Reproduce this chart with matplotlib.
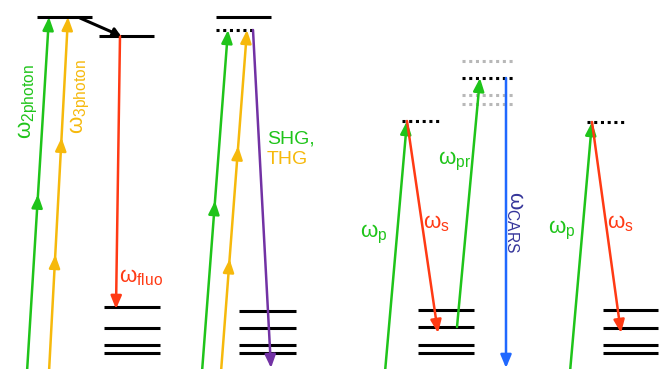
import matplotlib
matplotlib.use("Agg")
import matplotlib.pyplot as plt

plt.rcParams["font.family"] = ["Liberation Sans", "DejaVu Sans"]
plt.rcParams["mathtext.fontset"] = "custom"
plt.rcParams["mathtext.rm"] = "Liberation Sans"
plt.rcParams["mathtext.it"] = "Liberation Sans"

GREEN = "#1fc41a"
YELLOW = "#f6b90c"
RED = "#ff3a14"
PURPLE = "#7232a4"
BLUE = "#2068ff"
NAVY = "#35359a"
GRAY = "#b8b8b8"

# energy levels in picture units: (x start, x end, y)
solid_levels = [
    (37, 92, 17), (99, 154, 36),
    (104, 160, 307), (104, 160, 328), (104, 160, 345), (104, 160, 353),
    (216, 271, 17),
    (239, 296, 311), (239, 296, 328), (239, 296, 345), (239, 296, 353),
    (418, 474, 310), (418, 474, 327), (418, 474, 345), (418, 474, 353),
    (603, 658, 310), (603, 658, 328), (603, 658, 345), (603, 658, 353),
]
virtual_levels = [(216, 256, 30), (402, 442, 121), (462, 514, 78), (587, 627, 122)]
gray_levels = [(462, 514, 61), (462, 514, 95), (462, 514, 104)]

# transitions: (x start, y start, x end, y end, colour, extra heads along the line)
transitions = [
    (27, 372, 49, 17, GREEN, [0.50]),
    (49, 372, 68, 17, YELLOW, [0.33, 0.66]),
    (120, 36, 116, 309, RED, []),
    (202, 372, 228, 30, GREEN, [0.50]),
    (221, 372, 247, 30, YELLOW, [0.33, 0.66]),
    (253, 30, 271, 368, PURPLE, []),
    (385, 372, 407, 121, GREEN, []),
    (407, 121, 438, 333, RED, []),
    (457, 327, 480, 78, GREEN, []),
    (506, 78, 506, 368, BLUE, []),
    (570, 372, 592, 122, GREEN, []),
    (592, 122, 621, 333, RED, []),
]
# relaxation between the two upper levels
relaxation = (80, 18, 121, 36)

# labels: (x, y, text, colour, rotation)
labels = [
    (28, 102, r"$\mathrm{\omega_{2photon}}$", GREEN, 90),
    (80, 97, r"$\mathrm{\omega_{3photon}}$", YELLOW, 90),
    (141, 277, r"$\mathrm{\omega_{fluo}}$", RED, 0),
    (374, 234, r"$\mathrm{\omega_{p}}$", GREEN, 0),
    (436, 224, r"$\mathrm{\omega_{s}}$", RED, 0),
    (455, 161, r"$\mathrm{\omega_{pr}}$", GREEN, 0),
    (515, 222, r"$\mathrm{\omega_{CARS}}$", NAVY, 270),
    (562, 230, r"$\mathrm{\omega_{p}}$", GREEN, 0),
    (620, 224, r"$\mathrm{\omega_{s}}$", RED, 0),
]


def main():
    fig = plt.figure(figsize=(6.64, 3.69), dpi=100)
    ax = fig.add_axes([0, 0, 1, 1])
    ax.set_xlim(0, 664)
    ax.set_ylim(369, 0)
    ax.axis("off")

    for x0, x1, y in solid_levels:
        ax.plot([x0, x1], [y, y], color="black", lw=2.2, solid_capstyle="butt")
    for x0, x1, y in virtual_levels:
        ax.plot([x0, x1], [y, y], color="black", lw=2.2, ls=(0, (1, 1.2)))
    for x0, x1, y in gray_levels:
        ax.plot([x0, x1], [y, y], color=GRAY, lw=2.2, ls=(0, (1, 1.2)))

    head = "-|>,head_length=0.6,head_width=0.25"
    for x0, y0, x1, y1, c, mids in transitions:
        ax.annotate("", xy=(x1, y1), xytext=(x0, y0), annotation_clip=False,
                    arrowprops=dict(arrowstyle=head, color=c, lw=1.8,
                                    shrinkA=0, shrinkB=0, mutation_scale=13))
        for t in mids:
            xm, ym = x0 + t * (x1 - x0), y0 + t * (y1 - y0)
            xb, yb = x0 + (t - 0.03) * (x1 - x0), y0 + (t - 0.03) * (y1 - y0)
            ax.annotate("", xy=(xm, ym), xytext=(xb, yb),
                        arrowprops=dict(arrowstyle=head, color=c, lw=1.8,
                                        shrinkA=0, shrinkB=0, mutation_scale=13))

    x0, y0, x1, y1 = relaxation
    ax.annotate("", xy=(x1, y1), xytext=(x0, y0),
                arrowprops=dict(arrowstyle="-|>,head_length=0.5,head_width=0.3",
                                color="black", lw=2.2, shrinkA=0, shrinkB=0,
                                mutation_scale=9))

    for x, y, s, c, rot in labels:
        ax.text(x, y, s, color=c, fontsize=16, rotation=rot,
                ha="center", va="center")

    ax.text(267, 139, "SHG,", color=GREEN, fontsize=14, ha="left", va="center")
    ax.text(267, 160, "THG", color=YELLOW, fontsize=14, ha="left", va="center")

    fig.savefig("out.png", dpi=100, facecolor="white")


if __name__ == "__main__":
    main()
